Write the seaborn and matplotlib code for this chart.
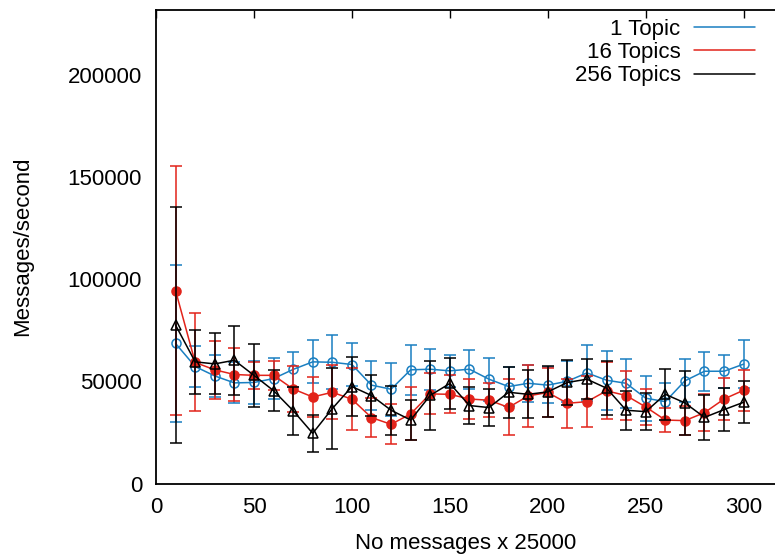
import numpy as np
import pandas as pd
import matplotlib
matplotlib.use("Agg")
import matplotlib.pyplot as plt
import seaborn as sns

# message counts (x 25000)
n_messages = list(range(10, 310, 10))

# mean throughput per run and its spread
one_topic = [68600, 57300, 52700, 49300, 49500, 51400, 55900, 59600, 59400, 58300,
             48200, 46200, 55700, 56000, 55200, 56000, 51100, 47500, 49100, 48200,
             50100, 54200, 50600, 49100, 41800, 40100, 50300, 55000, 55000, 58500]
one_topic_err = [38500, 10000, 10200, 10000, 10500, 10000, 8600, 10500, 13300, 10300,
                 12000, 13000, 12200, 10000, 7800, 9500, 10500, 9500, 9200, 9000,
                 10000, 13600, 14400, 12000, 11100, 9000, 10600, 9500, 8200, 11900]

sixteen_topics = [94500, 59300, 55700, 53400, 53000, 53000, 46300, 42400, 44700, 41300,
                  32300, 29000, 34100, 43900, 43700, 41400, 40800, 37300, 42900, 44600,
                  39300, 40100, 45400, 43100, 37500, 31100, 30800, 34700, 41400, 45700]
sixteen_topics_err = [61000, 24000, 14300, 13000, 6600, 7000, 11300, 9800, 13300, 15100,
                      9400, 9800, 13000, 10000, 9300, 10000, 8200, 13700, 15000, 12100,
                      12100, 12400, 14000, 12000, 9000, 5900, 7200, 9000, 10300, 10000]

many_topics = [77600, 59600, 58600, 60400, 53000, 45500, 35700, 24600, 36700, 47500,
               43100, 35900, 31100, 43200, 49000, 38200, 37200, 44700, 43700, 44900,
               49500, 51100, 46700, 35900, 35200, 43700, 39500, 32400, 36200, 39800]
many_topics_err = [58000, 15600, 14900, 17000, 15300, 10000, 11800, 9200, 19700, 14400,
                   10000, 12000, 9800, 17000, 12600, 9200, 9000, 12400, 11800, 12500,
                   11200, 9700, 13200, 9500, 9200, 12600, 15700, 11100, 10500, 10200]

series_names = ["1 Topic", "16 Topics", "256 Topics"]

sns.set_style("white", {'text.color': 'black', 'axes.labelcolor': 'black',
                        'xtick.color': 'black', 'ytick.color': 'black'})
plt.rcParams['font.family'] = ['Liberation Sans', 'DejaVu Sans']

fig = plt.figure(figsize=(7.75, 5.57), dpi=100)
ax = fig.add_axes([156 / 775, 1 - 483.5 / 557, 619 / 775, 473.5 / 557])

styles = [
    dict(color='#1a7fc1', marker='o', mfc='none'),
    dict(color='#e2231a', marker='o', mfc='#e2231a'),
    dict(color='black', marker='^', mfc='none'),
]
values = [one_topic, sixteen_topics, many_topics]
errors = [one_topic_err, sixteen_topics_err, many_topics_err]

for name, ys, errs, st in zip(series_names, values, errors, styles):
    df = pd.DataFrame({'x': n_messages, 'y': ys, 'err': errs})
    ax.errorbar(df['x'], df['y'], yerr=df['err'], fmt='none', ecolor=st['color'],
                elinewidth=1.1, capsize=4, capthick=1.1)
    sns.lineplot(data=df, x='x', y='y', ax=ax, color=st['color'], lw=1.1,
                 marker=st['marker'], markersize=6.5, markerfacecolor=st['mfc'],
                 markeredgecolor=st['color'], markeredgewidth=1.1, label=name)

ax.set_xlim(0, 316)
ax.set_ylim(0, 232000)
ax.set_xticks(range(0, 301, 50))
ax.set_yticks(range(0, 200001, 50000))
ax.tick_params(axis='both', direction='in', length=6, width=1, labelsize=16,
               top=True, right=False, pad=10, colors='black')
for side in ['left', 'bottom', 'top']:
    ax.spines[side].set_linewidth(1.3)
    ax.spines[side].set_color('black')
ax.spines['right'].set_visible(False)

ax.set_xlabel('No messages x 25000', fontsize=16, labelpad=10.5, color='black')
ax.set_ylabel('Messages/second', fontsize=16, labelpad=25, color='black')

handles = [plt.Line2D([], [], color=st['color'], lw=1.1) for st in styles]
leg = ax.legend(handles, series_names, loc='upper right', bbox_to_anchor=(1.0, 1.0235),
                frameon=False, markerfirst=False, handlelength=2.75, fontsize=16,
                labelspacing=0.1, handletextpad=0.6)
for t in leg.get_texts():
    t.set_color('black')

fig.savefig('out.png', dpi=100)
